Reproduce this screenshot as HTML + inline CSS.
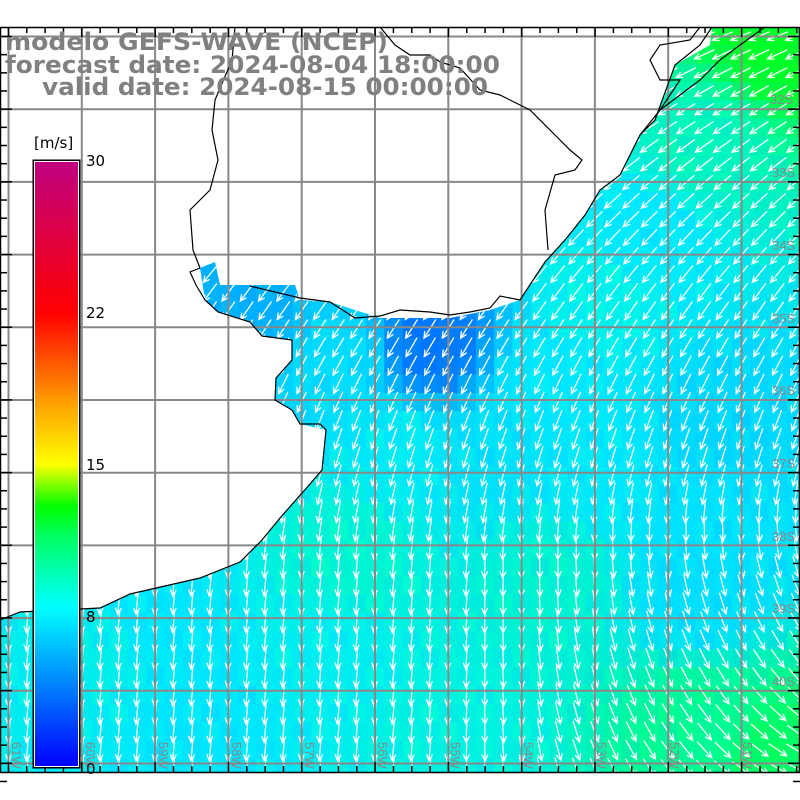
<!DOCTYPE html>
<html><head><meta charset="utf-8"><style>
html,body{margin:0;padding:0;background:#fff}
svg{display:block}
</style></head><body>
<svg id="s" width="800" height="800" xmlns="http://www.w3.org/2000/svg">
<defs>
<clipPath id="oc"><polygon id="ocp" points="0,620 20,612 100,608 130,594 200,578 240,562 262,540 280,518 310,484 322,470 326,430 300,424 292,410 275,400 276,378 292,360 292,340 262,336 250,322 218,312 205,300 200,268 215,262 220,285 295,285 300,300 330,302 380,318 450,318 490,310 520,300 545,262 565,240 585,215 600,190 620,175 640,135 655,120 675,65 710,45 712,27 800,27 800,772 0,772"/></clipPath>
<linearGradient id="cb" x1="0" y1="1" x2="0" y2="0">
<stop offset="0" stop-color="#0000ff"/>
<stop offset="0.263" stop-color="#00ffff"/>
<stop offset="0.38" stop-color="#00ff60"/>
<stop offset="0.43" stop-color="#00ff00"/>
<stop offset="0.5" stop-color="#ffff00"/>
<stop offset="0.6" stop-color="#ffa000"/>
<stop offset="0.75" stop-color="#ff0000"/>
<stop offset="1" stop-color="#c00080"/>
</linearGradient>
</defs>
<g id="field" clip-path="url(#oc)"></g>
<g id="grid" stroke="#888" stroke-width="2" fill="none"></g>
<g fill="none" stroke="#000" stroke-width="1.2">
<polyline points="0,620 20,612 100,608 130,594 200,578 240,562 262,540 280,518 310,484 322,470 326,430 320,424 300,424 292,410 275,400 276,378 292,360 292,340 262,336 250,322 218,312 205,300 196,285 190,272 200,268"/>
<polyline points="200,268 193,250 190,210 210,190 218,160 212,130 215,100 232,60 235,27"/>
<polyline points="250,286 300,298 330,302 355,318 380,316 400,310 430,312 450,315 470,312 490,308 500,296 520,300 545,262 565,240 585,215 600,190 620,175 640,135 655,120 675,65 700,45 712,27"/>
<polyline points="380,27 395,45 410,55 430,55 440,62 460,68 480,90 500,95 530,110 555,135 570,150 582,160 575,170 555,175 545,210 548,250"/>
<polyline points="640,135 660,110 670,95 680,80 660,80 650,60 660,45 690,40 700,27"/>
<polyline points="660,110 680,95 700,80 720,60 740,45 765,27"/>
</g>
<rect x="0.5" y="27.5" width="799" height="745" fill="none" stroke="#000" stroke-width="1.5"/>
<g id="ticks" stroke="#000" stroke-width="1.5"></g>
<g fill="#888" font-family="Liberation Sans, sans-serif" font-size="13">
<text x="770" y="104">32S</text><text x="772" y="177">33S</text><text x="772" y="250">34S</text><text x="772" y="323">35S</text><text x="772" y="395">36S</text><text x="772" y="468">37S</text><text x="772" y="541">38S</text><text x="772" y="613">39S</text><text x="772" y="686">40S</text>
<text transform="translate(12,742) rotate(90)">61W</text><text transform="translate(86,742) rotate(90)">60W</text><text transform="translate(159,742) rotate(90)">59W</text><text transform="translate(232,742) rotate(90)">58W</text><text transform="translate(305,742) rotate(90)">57W</text><text transform="translate(378,742) rotate(90)">56W</text><text transform="translate(451,742) rotate(90)">55W</text><text transform="translate(524,742) rotate(90)">54W</text><text transform="translate(597,742) rotate(90)">53W</text><text transform="translate(670,742) rotate(90)">52W</text><text transform="translate(743,742) rotate(90)">51W</text>
</g>
<rect x="32.5" y="159.5" width="48" height="609" fill="#000"/>
<rect x="34" y="161" width="45" height="606" fill="#fff"/>
<rect x="35" y="162" width="43" height="604" fill="url(#cb)"/>
<g font-family="DejaVu Sans, sans-serif" font-size="15" fill="#000">
<text x="34" y="148">[m/s]</text>
<text x="86" y="166">30</text><text x="86" y="318">22</text><text x="86" y="470">15</text><text x="86" y="622">8</text><text x="86" y="774">0</text>
</g>
<g font-family="DejaVu Sans, sans-serif" font-weight="bold" font-size="24" fill="#808080">
<text x="5" y="50" textLength="383" lengthAdjust="spacingAndGlyphs">modelo GEFS-WAVE (NCEP)</text>
<text x="5" y="73" textLength="495" lengthAdjust="spacingAndGlyphs">forecast date: 2024-08-04 18:00:00</text>
<text x="42" y="95" textLength="446" lengthAdjust="spacingAndGlyphs">valid date: 2024-08-15 00:00:00</text>
</g>
</svg>
<script>
var NS="http://www.w3.org/2000/svg";
function el(t,a,p){var e=document.createElementNS(NS,t);for(var k in a)e.setAttribute(k,a[k]);p.appendChild(e);return e;}
var pts=[[780,40,0,255,40],[700,150,0,245,190],[650,230,0,232,255],[430,345,0,120,255],[250,300,0,175,255],[550,380,0,232,255],[720,420,0,215,255],[700,520,0,225,255],[400,450,0,235,245],[350,560,0,245,210],[550,580,0,242,210],[100,650,0,238,235],[200,720,0,230,255],[700,600,0,222,255],[700,720,0,250,150],[780,760,0,255,100],[450,720,0,242,225],[600,300,0,242,235],[340,360,0,220,255],[500,450,0,225,250],[600,470,0,232,250],[150,620,0,230,255],[330,650,0,238,240]];
function col(x,y){var s=0,r=0,g=0,b=0;for(var i=0;i<pts.length;i++){var p=pts[i];var d=Math.pow((x-p[0])*(x-p[0])+(y-p[1])*(y-p[1])+100,2);var w=1/d;s+=w;r+=w*p[2];g+=w*p[3];b+=w*p[4];}
var n=Math.sin(x*0.37+y*0.21)*Math.cos(y*0.29-x*0.13)*8;return "rgb("+Math.round(r/s)+","+Math.min(255,Math.round(g/s+n))+","+Math.min(255,Math.round(b/s-n))+")";}
var F=document.getElementById("field");var cs=18.3;
for(var y=27;y<772;y+=cs){for(var x=0;x<800;x+=cs){el("rect",{x:x.toFixed(1),y:y.toFixed(1),width:(cs+0.6).toFixed(1),height:(cs+0.6).toFixed(1),fill:col(x+9,y+9)},F);}}
var A=el("g",{stroke:"#fff","stroke-width":"1.3",fill:"none"},F);
for(var y=27+9;y<772;y+=cs){for(var x=9;x<800;x+=cs){
var a=Math.max(60-(y-100)*0.12,5);a-=Math.max(0,(x-450)/350)*Math.max(0,(y-480)/290)*70;
var r=a*Math.PI/180;var L=22;var dx=-Math.sin(r),dy=Math.cos(r);
var x0=x-dx*L/2,y0=y-dy*L/2,x1=x+dx*L/2,y1=y+dy*L/2;
var h=7,ha=0.45;var bx=-dx,by=-dy;
var p1=[x1+h*(bx*Math.cos(ha)-by*Math.sin(ha)),y1+h*(bx*Math.sin(ha)+by*Math.cos(ha))];
var p2=[x1+h*(bx*Math.cos(-ha)-by*Math.sin(-ha)),y1+h*(bx*Math.sin(-ha)+by*Math.cos(-ha))];
el("path",{d:"M"+x0.toFixed(1)+" "+y0.toFixed(1)+"L"+x1.toFixed(1)+" "+y1.toFixed(1)+"M"+p1[0].toFixed(1)+" "+p1[1].toFixed(1)+"L"+x1.toFixed(1)+" "+y1.toFixed(1)+"L"+p2[0].toFixed(1)+" "+p2[1].toFixed(1)},A);}}
var G=document.getElementById("grid");
for(var i=0;i<11;i++){var gx=8.5+i*73.3;el("line",{x1:gx,y1:27,x2:gx,y2:772},G);}
for(var j=0;j<11;j++){var gy=36.5+j*72.7;el("line",{x1:0,y1:gy,x2:800,y2:gy},G);}
var T=document.getElementById("ticks");
for(var i=0;i<44;i++){var tx=8.5+i*18.33;var L=(i%4==0)?10:6;el("line",{x1:tx,y1:27,x2:tx,y2:27+L},T);el("line",{x1:tx,y1:772,x2:tx,y2:772-L},T);}
for(var j=0;j<42;j++){var ty=36.5+j*18.17;var L=(j%4==0)?12:7;el("line",{x1:0,y1:ty,x2:L,y2:ty},T);el("line",{x1:800,y1:ty,x2:800-L,y2:ty},T);}
</script>
</body></html>
